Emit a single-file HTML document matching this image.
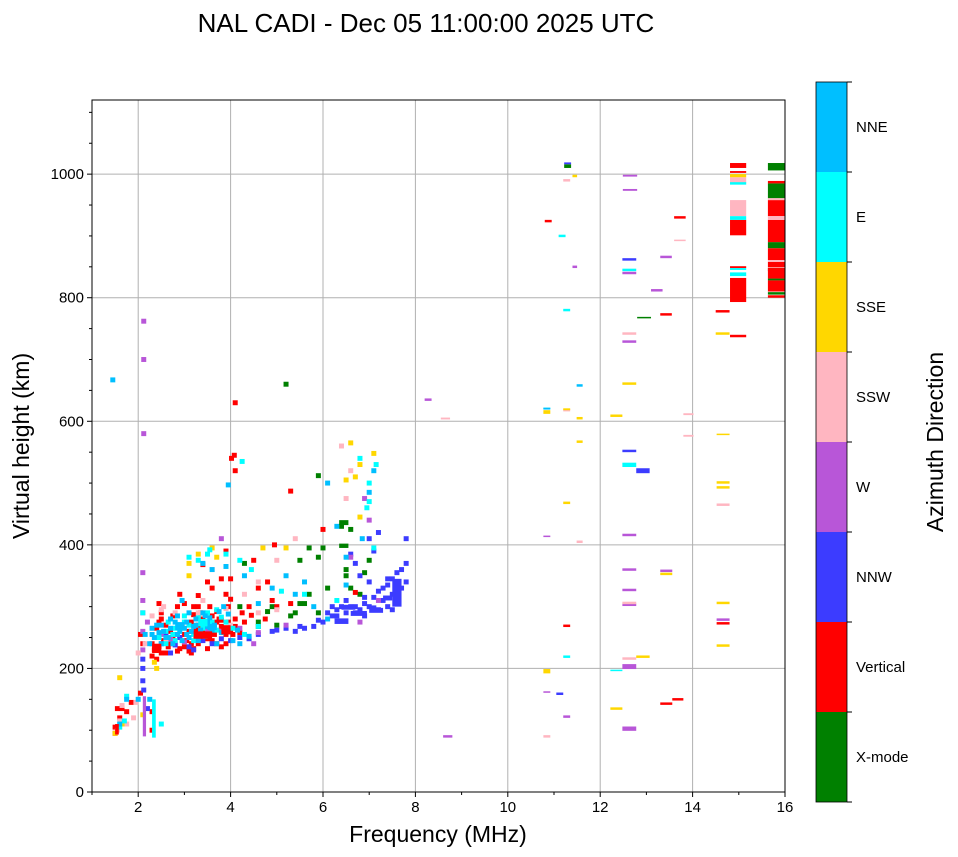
<!DOCTYPE html>
<html><head><meta charset="utf-8"><style>
body{margin:0;background:#fff;}
svg{display:block;font-family:"Liberation Sans",sans-serif;}
</style></head><body>
<svg id="chart" width="958" height="857">
<text x="426" y="32" font-size="26" text-anchor="middle">NAL CADI - Dec 05 11:00:00 2025 UTC</text>
<g id="grid"></g><g id="marks"></g><g id="axes"></g><g id="cbar"></g>
</svg>
<script>
const xTicks=[2,4,6,8,10,12,14,16];
const yTicks=[0,200,400,600,800,1000];
const azNames=["X-mode","Vertical","NNW","W","SSW","SSE","E","NNE"];
const azColors=["#008000","#ff0000","#3c3cff","#b856d8","#ffb6c1","#ffd700","#00ffff","#00bfff"];
// points [freq MHz, height km]
const xmodePts=[[3.45,270],[4.2,300],[4.6,268],[5.0,270],[5.3,285],[5.5,305],[5.7,320],[5.9,290],[5.9,380],[5.5,375],[5.7,395],[6.0,395],[6.5,360],[6.6,330],[6.9,355],[7.0,375],[6.4,430],[6.6,425],[5.9,512],[5.2,660],[4.9,300],[6.8,320],[6.1,330],[4.3,370],[4.6,275],[5.6,305],[5.4,290],[6.5,350],[4.8,292]];
const verticalPts=[[2.3,220],[2.3,240],[2.35,230],[2.4,265],[2.45,275],[2.5,280],[2.55,245],[2.6,225],[2.65,235],[2.7,260],[2.8,240],[2.85,228],[2.9,250],[2.95,270],[3.0,235],[3.05,245],[3.1,260],[3.15,240],[3.2,232],[3.25,250],[3.3,270],[3.35,255],[3.4,280],[3.45,262],[3.5,248],[3.55,270],[3.6,285],[3.65,255],[3.7,275],[3.75,280],[3.8,268],[3.85,262],[3.9,255],[3.95,275],[4.0,262],[4.1,280],[4.2,258],[4.3,275],[2.9,320],[3.0,305],[3.2,300],[3.3,318],[3.5,340],[3.6,330],[3.8,345],[3.9,320],[4.0,312],[4.4,300],[4.6,330],[4.8,340],[4.9,310],[5.0,300],[5.3,305],[4.0,345],[3.2,287],[2.5,290],[4.08,545],[4.02,540],[4.1,520],[4.1,630],[5.3,487],[6.7,323],[2.45,305],[2.1,240],[2.05,255],[3.4,368],[4.5,375],[3.9,390],[2.85,300],[3.3,300],[4.75,280],[4.45,286],[3.15,225],[3.8,235],[3.55,300],[4.25,290],[4.95,400],[6.0,425],[1.55,135],[1.6,120],[1.65,135],[1.75,130],[2.05,160],[2.3,130],[2.3,100],[1.85,145],[2.45,235],[2.75,250],[3.25,262],[3.6,245],[4.05,255],[2.4,215],[2.5,225],[2.7,240],[2.9,232],[3.1,228],[3.3,240],[3.5,232],[3.7,240],[3.9,240],[3.4,250],[3.6,258],[3.8,278],[4.1,268],[3.0,255],[2.6,270],[3.35,290],[3.7,292],[3.95,300],[2.75,285],[3.15,275],[1.5,95],[1.5,105]];
const nnwPts=[[6.0,275],[6.1,290],[6.2,285],[6.3,295],[6.4,300],[6.5,290],[6.5,310],[6.6,300],[6.7,290],[6.8,295],[6.9,305],[7.0,300],[7.1,315],[7.2,325],[7.3,330],[7.4,335],[7.5,345],[7.6,355],[7.7,360],[7.8,370],[7.7,330],[7.6,310],[7.5,320],[7.4,300],[7.2,295],[7.1,298],[6.9,285],[7.0,340],[6.8,350],[6.7,370],[7.0,410],[7.8,410],[6.2,300],[5.8,268],[5.6,265],[5.4,260],[5.2,265],[4.9,260],[4.6,255],[4.2,250],[3.8,248],[3.4,245],[3.1,235],[2.9,250],[2.7,225],[2.5,240],[2.6,255],[6.6,385],[7.2,420],[7.1,390],[7.8,340],[7.5,295],[2.1,200],[2.1,180],[2.12,165],[2.1,215],[2.2,135],[4.4,248],[4.0,245],[3.6,240],[5.0,262],[5.5,268],[5.9,278],[6.3,285],[6.7,300],[7.3,310],[7.6,330],[7.4,345],[6.9,315],[3.2,230],[2.8,238]];
const wPts=[[2.1,260],[2.1,355],[2.1,310],[2.1,230],[2.2,275],[2.5,255],[2.7,247],[3.0,243],[3.8,260],[4.5,240],[4.6,258],[5.2,270],[6.8,275],[7.2,310],[6.6,380],[2.12,580],[2.12,700],[2.12,762],[3.8,410],[7.0,440],[6.9,475],[2.1,290],[3.5,262],[4.2,265]];
const sswPts=[[2.3,285],[2.5,295],[2.55,300],[2.8,290],[3.4,310],[3.6,360],[4.3,320],[4.6,340],[5.0,295],[5.4,410],[6.5,475],[6.6,520],[6.4,560],[2.15,240],[2.0,225],[3.9,297],[5.0,375],[1.55,100],[1.6,115],[1.75,110],[1.9,120],[1.95,145],[1.65,140],[2.6,245],[3.3,290],[4.0,270],[4.6,290]];
const ssePts=[[2.35,210],[3.1,350],[3.3,385],[3.6,395],[3.7,380],[3.1,370],[4.7,395],[6.6,565],[7.1,548],[6.5,505],[6.7,510],[6.8,445],[6.8,530],[2.4,200],[1.5,95],[1.65,110],[1.6,185],[2.1,125],[5.2,395]];
const ePts=[[2.4,235],[2.45,250],[2.6,260],[2.65,275],[2.75,255],[2.8,245],[2.9,270],[3.0,285],[3.1,270],[3.2,255],[3.3,282],[3.45,252],[3.5,290],[3.6,275],[3.7,295],[3.8,283],[4.05,265],[4.3,255],[4.6,268],[3.1,380],[3.3,375],[3.5,385],[3.55,392],[3.9,385],[4.2,375],[5.1,325],[5.6,320],[6.3,310],[7.0,470],[6.95,460],[7.15,530],[7.0,500],[6.8,540],[7.1,395],[4.25,535],[4.45,360],[2.1,290],[1.7,115],[1.6,105],[1.75,155],[2.5,110],[2.8,265],[3.0,275],[3.4,265],[3.7,262],[3.2,245],[2.6,240],[3.9,275]];
const nnePts=[[2.3,255],[2.3,265],[2.4,270],[2.5,240],[2.55,260],[2.6,250],[2.7,265],[2.75,240],[2.8,275],[2.85,285],[2.9,260],[2.95,245],[3.0,265],[3.05,275],[3.1,250],[3.15,260],[3.2,268],[3.25,280],[3.3,245],[3.35,262],[3.4,290],[3.45,275],[3.5,268],[3.55,282],[3.6,262],[3.7,240],[3.75,292],[3.85,300],[3.95,288],[4.05,245],[4.2,240],[4.4,252],[2.95,310],[3.4,370],[3.6,360],[3.9,365],[4.3,350],[4.6,305],[4.9,330],[5.2,350],[5.4,320],[5.6,340],[5.8,300],[6.1,280],[6.5,335],[6.5,380],[6.1,500],[7.0,485],[6.85,410],[6.3,430],[7.1,520],[3.95,497],[2.25,240],[2.15,255],[1.6,110],[1.75,150],[2.0,150],[2.25,150],[1.45,667],[2.35,250],[2.45,258],[2.65,250],[2.85,255],[3.05,255],[3.25,270],[3.45,285],[3.65,270],[2.5,270],[2.7,280],[3.1,290],[3.5,275],[3.8,258],[4.15,262]];
// bars [f0, f1, h0, h1]
const xmodeBars=[[11.22,11.37,1010,1016],[12.8,13.1,767,769],[15.63,16,1006,1018],[15.63,16,961,985],[15.63,16,880,890],[15.63,16,843,848],[15.63,16,828,831],[15.63,16,805,809],[6.35,6.55,432,440],[6.35,6.55,395,402]];
const verticalBars=[[14.81,15.16,1010,1018],[14.81,15.16,1002,1005],[14.81,15.16,901,926],[14.81,15.16,848,851],[14.81,15.16,793,832],[15.63,16,985,989],[15.63,16,932,958],[15.63,16,890,926],[15.63,16,861,880],[15.63,16,849,858],[15.63,16,831,848],[15.63,16,810,828],[15.63,16,800,804],[10.8,10.95,922,926],[13.6,13.85,928,932],[13.3,13.55,771,775],[14.5,14.8,776,780],[14.81,15.16,736,740],[14.52,14.8,271,275],[11.2,11.35,267,271],[13.3,13.56,141,145],[13.56,13.8,148,152],[1.5,1.58,93,110],[3.2,3.6,248,260],[2.3,2.5,225,240],[3.8,4.0,255,270]];
const nnwBars=[[11.22,11.37,1016,1019],[12.48,12.78,860,864],[12.48,12.78,550,554],[12.78,13.07,516,524],[11.05,11.2,157,161],[6.25,6.55,272,281],[6.6,6.95,285,293],[7.5,7.7,300,345],[7.0,7.3,290,298],[6.4,6.7,295,303],[7.3,7.5,310,318]];
const wBars=[[12.49,12.8,996,999],[12.49,12.8,973,976],[11.4,11.5,848,852],[13.3,13.55,864,868],[12.48,12.78,838,842],[13.1,13.35,810,814],[12.48,12.78,727,731],[12.48,12.78,414,418],[12.48,12.78,358,362],[13.3,13.56,356,360],[12.48,12.78,325,329],[12.48,12.78,301,305],[14.52,14.8,277,281],[10.77,10.92,413,415],[12.48,12.78,199,207],[10.77,10.92,161,163],[11.2,11.35,120,124],[12.48,12.78,99,106],[8.6,8.8,88,92],[8.2,8.35,633,637],[2.1,2.17,90,155]];
const sswBars=[[11.2,11.35,988,992],[14.81,15.16,985,995],[14.81,15.16,932,958],[15.63,16,958,961],[15.63,16,926,932],[15.63,16,858,861],[13.6,13.85,892,894],[12.48,12.78,740,744],[11.2,11.35,616,620],[13.8,14.02,610,613],[13.8,14.02,575,578],[14.52,14.8,463,467],[11.49,11.62,403,407],[12.48,12.78,304,308],[12.48,12.78,214,218],[10.77,10.92,88,92],[8.55,8.75,603,606]];
const sseBars=[[11.4,11.5,995,999],[14.81,15.16,995,1000],[14.5,14.8,740,744],[10.77,10.92,612,618],[11.2,11.35,618,621],[11.49,11.62,603,607],[12.48,12.78,659,663],[12.22,12.48,607,611],[14.52,14.8,578,580],[11.49,11.62,565,569],[14.52,14.8,499,503],[14.52,14.8,491,495],[11.2,11.35,466,470],[13.3,13.56,351,355],[14.52,14.8,304,308],[14.52,14.8,235,239],[12.78,13.07,217,221],[10.77,10.92,192,199],[12.22,12.48,133,137]];
const eBars=[[14.81,15.16,983,987],[14.81,15.16,926,932],[14.81,15.16,845,848],[14.81,15.16,835,841],[11.1,11.25,898,902],[11.2,11.35,778,782],[12.48,12.78,843,847],[10.77,10.92,620,622],[12.48,12.78,526,533],[11.2,11.35,217,221],[12.22,12.48,196,198],[2.3,2.38,88,150],[3.3,3.5,268,280]];
const nneBars=[[11.49,11.62,656,660],[10.77,10.92,619,622],[2.8,3.0,262,275],[3.5,3.7,262,272]];

const X0=92,X1=785,Y0=792,Y1=100;
const xs=f=>X0+(f-1)*(X1-X0)/15;
const ys=h=>Y0-(h-0)*(Y0-Y1)/1120;
const NS="http://www.w3.org/2000/svg";
function mk(tag,attrs,parent){const e=document.createElementNS(NS,tag);for(const k in attrs)e.setAttribute(k,attrs[k]);parent.appendChild(e);return e;}
const grid=document.getElementById('grid'),marks=document.getElementById('marks'),axes=document.getElementById('axes'),cb=document.getElementById('cbar');
mk('rect',{x:X0,y:Y1,width:X1-X0,height:Y0-Y1,fill:'#fff'},grid);
xTicks.forEach(t=>{const l=mk('line',{x1:xs(t),x2:xs(t),y1:Y1,y2:Y0,stroke:'#b0b0b0','stroke-width':1},grid);

});
yTicks.forEach(t=>{const l=mk('line',{x1:X0,x2:X1,y1:ys(t),y2:ys(t),stroke:'#b0b0b0','stroke-width':1},grid);

});
const ptSets=[xmodePts,verticalPts,nnwPts,wPts,sswPts,ssePts,ePts,nnePts];
const barSets=[xmodeBars,verticalBars,nnwBars,wBars,sswBars,sseBars,eBars,nneBars];
ptSets.forEach((pts,ci)=>pts.forEach(p=>{
 const r=mk('rect',{x:xs(p[0])-2.5,y:ys(p[1]+4),width:5,height:ys(p[1]-4)-ys(p[1]+4),fill:azColors[ci]},marks);
 
 
}));
barSets.forEach((bs,ci)=>bs.forEach(b=>{
 const r=mk('rect',{x:xs(b[0]),y:ys(b[3]),width:xs(b[1])-xs(b[0]),height:Math.max(1.5,ys(b[2])-ys(b[3])),fill:azColors[ci]},marks);
 
 
}));
mk('rect',{x:X0,y:Y1,width:X1-X0,height:Y0-Y1,fill:'none',stroke:'#000','stroke-width':1},axes);
xTicks.forEach(t=>{mk('line',{x1:xs(t),x2:xs(t),y1:Y0,y2:Y0+5,stroke:'#000'},axes);
const tx=mk('text',{x:xs(t),y:Y0+20,'font-size':15,'text-anchor':'middle'},axes);tx.textContent=t;

});
for(let t=1;t<16;t+=2){mk('line',{x1:xs(t),x2:xs(t),y1:Y0,y2:Y0+3,stroke:'#000'},axes);}
yTicks.forEach(t=>{mk('line',{x1:X0-5,x2:X0,y1:ys(t),y2:ys(t),stroke:'#000'},axes);
const tx=mk('text',{x:X0-8,y:ys(t)+5,'font-size':15,'text-anchor':'end'},axes);tx.textContent=t;

});
for(let t=50;t<1120;t+=50){if(t%200)mk('line',{x1:X0-3,x2:X0,y1:ys(t),y2:ys(t),stroke:'#000'},axes);}
const xl=mk('text',{x:438,y:842,'font-size':23,'text-anchor':'middle'},axes);xl.textContent='Frequency (MHz)';


const yl=mk('text',{x:0,y:0,'font-size':23,'text-anchor':'middle',transform:'translate(29,446) rotate(-90)'},axes);yl.textContent='Virtual height (km)';


const CB0=82,CB1=802,seg=(CB1-CB0)/8;
azNames.forEach((n,i)=>{const yTop=CB1-(i+1)*seg;
 const r=mk('rect',{x:816,y:yTop,width:31,height:seg,fill:azColors[i]},cb);
 
 
 const t=mk('text',{x:856,y:yTop+seg/2+5,'font-size':15},cb);t.textContent=n;
 
 });
for(let i=0;i<=8;i++){mk('line',{x1:847,x2:852,y1:CB0+i*seg,y2:CB0+i*seg,stroke:'#000'},cb);}
mk('rect',{x:816,y:CB0,width:31,height:CB1-CB0,fill:'none',stroke:'#000','stroke-width':0.8},cb);
const ct=mk('text',{x:0,y:0,'font-size':23,'text-anchor':'middle',transform:'translate(943,442) rotate(-90)'},cb);ct.textContent='Azimuth Direction';


</script>
</body></html>
